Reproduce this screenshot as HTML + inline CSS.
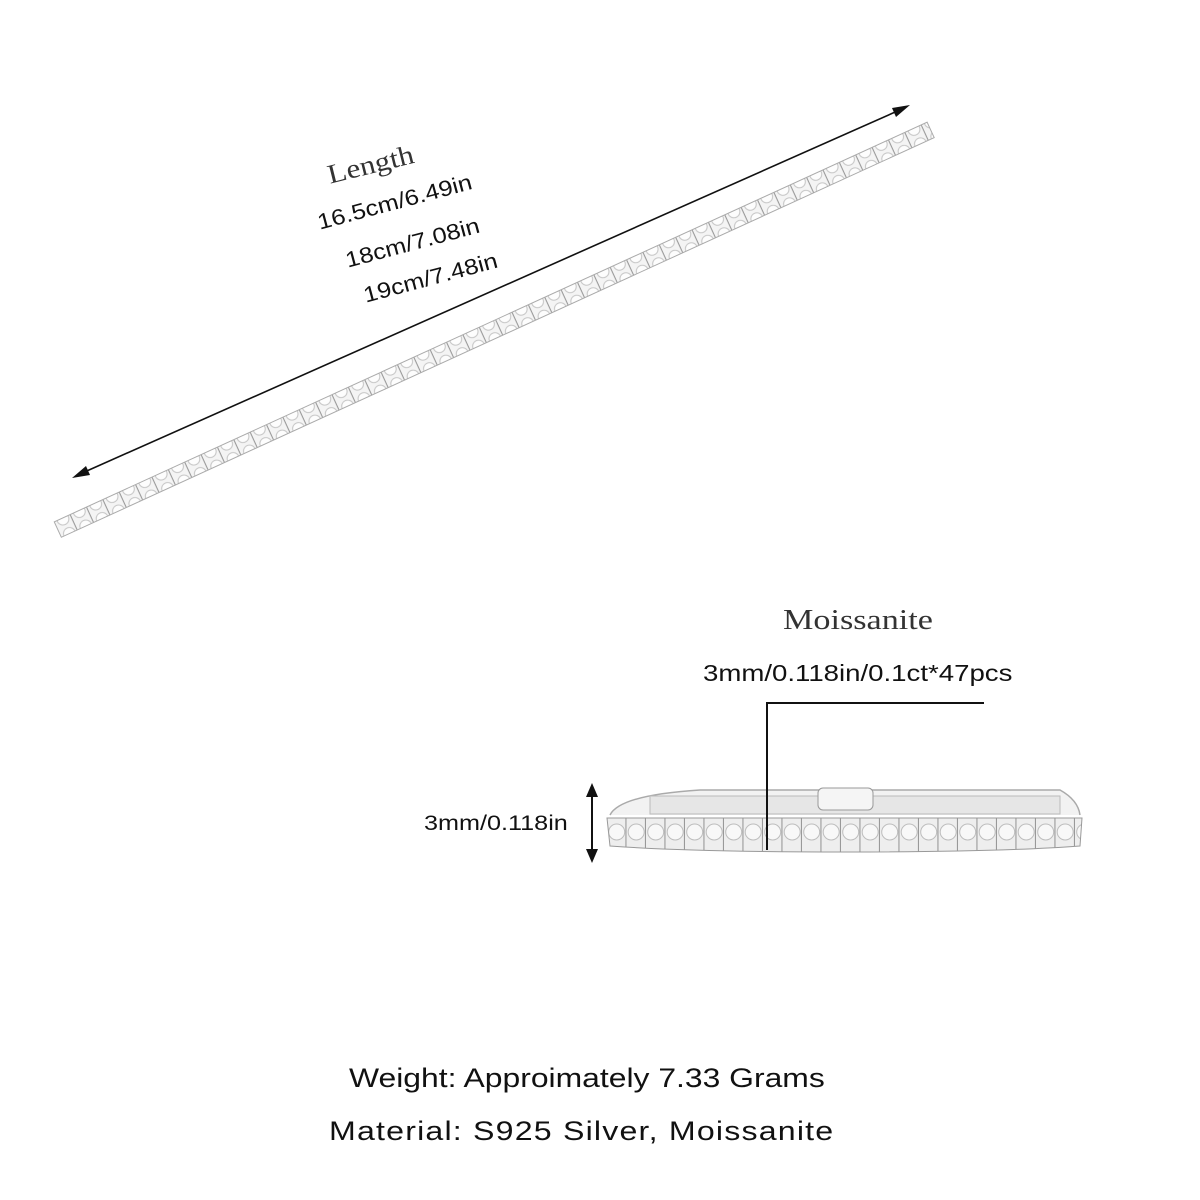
<!DOCTYPE html>
<html><head><style>
body{margin:0;width:1200px;height:1200px;background:#fff;position:relative;overflow:hidden;font-family:"Liberation Sans",sans-serif;}
.t{position:absolute;color:#111;white-space:nowrap;transform-origin:0 50%;}
</style></head><body>
<svg width="1200" height="1200" style="position:absolute;left:0;top:0">
<defs>
<pattern id="st" width="18" height="16" patternUnits="userSpaceOnUse">
<rect width="18" height="16" fill="#f4f4f4"/>
<circle cx="9" cy="8" r="6" fill="#fdfdfd" stroke="#c4c4c4" stroke-width="1"/>
<line x1="17.5" y1="0" x2="17.5" y2="16" stroke="#9a9a9a" stroke-width="1.2"/>
</pattern>
<pattern id="st2" width="19.5" height="28" patternUnits="userSpaceOnUse" x="607" y="818">
<rect width="19.5" height="28" fill="#eee"/>
<circle cx="9.7" cy="14" r="8" fill="#f8f8f8" stroke="#bdbdbd" stroke-width="1"/>
<line x1="19" y1="0" x2="19" y2="28" stroke="#999" stroke-width="1.2"/>
</pattern>
</defs>
<g transform="translate(58,530) rotate(-24.6)">
<rect x="0" y="-9" width="960" height="17" fill="url(#st)" stroke="#aaa" stroke-width="1"/>
</g>
<line x1="80" y1="474" x2="902" y2="109" stroke="#111" stroke-width="1.6"/>
<polygon points="72,478 86,466 90,475" fill="#111"/>
<polygon points="910,105 896,117 892,108" fill="#111"/>
<path d="M610,815 Q620,795 700,790 L1060,790 Q1078,800 1080,815" fill="#f2f2f2" stroke="#aaa" stroke-width="1.5"/>
<rect x="650" y="796" width="410" height="18" fill="#e6e6e6" stroke="#bbb"/>
<rect x="818" y="788" width="55" height="22" rx="5" fill="#f5f5f5" stroke="#999"/>
<path d="M607,818 L1082,818 L1080,846 Q1000,852 845,852 Q690,852 610,846 Z" fill="url(#st2)" stroke="#999"/>
<polyline points="984,703 767,703 767,850" fill="none" stroke="#111" stroke-width="2"/>
<line x1="592" y1="790" x2="592" y2="855" stroke="#111" stroke-width="2"/>
<polygon points="592,783 586,797 598,797" fill="#111"/>
<polygon points="592,863 586,849 598,849" fill="#111"/>
</svg>
<div class="t" style="left:328px;top:160px;font-family:'Liberation Serif',serif;font-size:27px;transform:rotate(-14deg) scaleX(1.15);color:#333">Length</div>
<div class="t" style="left:318px;top:210px;font-size:22px;transform:rotate(-15deg) scaleX(1.15)">16.5cm/6.49in</div>
<div class="t" style="left:346px;top:248px;font-size:22px;transform:rotate(-15deg) scaleX(1.15)">18cm/7.08in</div>
<div class="t" style="left:364px;top:283px;font-size:22px;transform:rotate(-15deg) scaleX(1.15)">19cm/7.48in</div>
<div class="t" style="left:783px;top:605px;font-family:'Liberation Serif',serif;font-size:28px;color:#333;transform:scaleX(1.22)">Moissanite</div>
<div class="t" style="left:703px;top:660px;font-size:23px;transform:scaleX(1.2)">3mm/0.118in/0.1ct*47pcs</div>
<div class="t" style="left:424px;top:812px;font-size:21px;transform:scaleX(1.2)">3mm/0.118in</div>
<div class="t" style="left:349px;top:1063px;font-size:27px;transform:scaleX(1.18)">Weight: Approimately 7.33 Grams</div>
<div class="t" style="left:329px;top:1116px;font-size:27px;letter-spacing:1px;transform:scaleX(1.19)">Material: S925 Silver, Moissanite</div>
</body></html>
